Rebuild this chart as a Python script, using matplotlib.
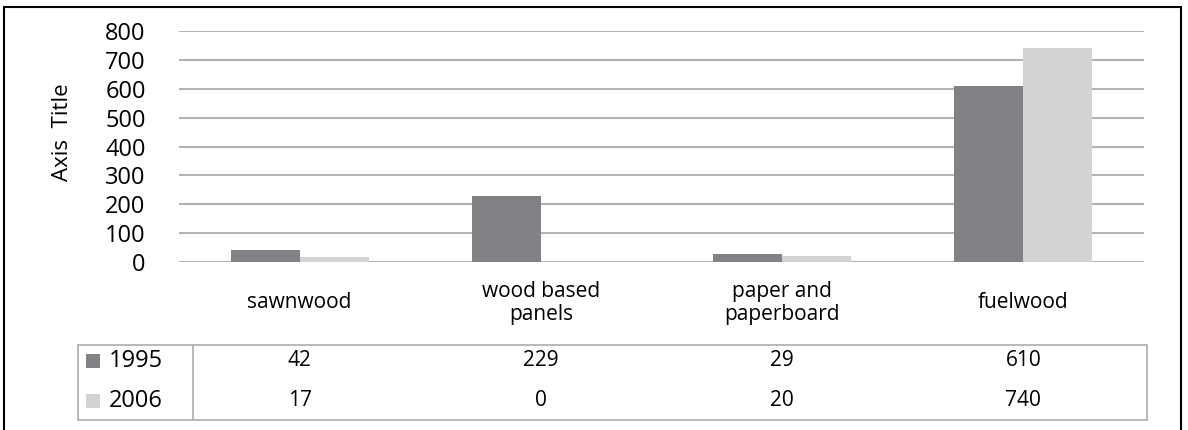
import matplotlib.pyplot as plt
from matplotlib.patches import Rectangle
from matplotlib.lines import Line2D
from matplotlib.transforms import blended_transform_factory

plt.rcParams['font.family'] = ['Open Sans', 'DejaVu Sans']

categories = ["sawnwood", "wood based\npanels", "paper and\npaperboard", "fuelwood"]
years = ["1995", "2006"]
values_1995 = [42, 229, 29, 610]
values_2006 = [17, 0, 20, 740]
yticks = [0, 100, 200, 300, 400, 500, 600, 700, 800]

colors = ["#808285", "#d1d3d4"]
grid_color = "#b3b3b3"

W, H = 1188, 430
fig = plt.figure(figsize=(W / 100, H / 100), dpi=100)

def fx(px):
    return px / W

def fy(py):
    return 1 - py / H

ax = fig.add_axes([fx(179), fy(262), fx(1144) - fx(179), fy(31) - fy(262)])

x = list(range(len(categories)))
bw = 0.286
ax.bar([i - bw / 2 for i in x], values_1995, width=bw, color=colors[0], zorder=3)
ax.bar([i + bw / 2 for i in x], values_2006, width=bw, color=colors[1], zorder=3)

ax.set_xlim(-0.5, len(categories) - 0.5)
ax.set_ylim(0, 800)
ax.set_yticks(yticks)
ax.set_yticklabels([str(t) for t in yticks], fontsize=17)
ax.tick_params(axis="y", length=0, pad=24)
ax.set_xticks([])
for s in ax.spines.values():
    s.set_visible(False)
ax.yaxis.grid(True, color=grid_color, linewidth=1.5, zorder=0)
ax.set_axisbelow(True)

fig.text(fx(62), fy(132), "Axis  Title", rotation=90, fontsize=16,
         ha="center", va="center")

# category labels under the axis
tr = blended_transform_factory(ax.transData, fig.transFigure)
for i, c in enumerate(categories):
    fig.text(i, fy(303), c, transform=tr, ha="center", va="center",
             fontsize=15, linespacing=1.15)

# data table
tbl_l, tbl_div, tbl_r, tbl_t, tbl_b = 78, 193, 1147, 345, 420
fig.add_artist(Rectangle((fx(tbl_l), fy(tbl_b)), fx(tbl_r) - fx(tbl_l),
                         fy(tbl_t) - fy(tbl_b), transform=fig.transFigure,
                         fill=False, edgecolor=grid_color, linewidth=1.3))
fig.add_artist(Line2D([fx(tbl_div), fx(tbl_div)], [fy(tbl_t), fy(tbl_b)],
                      transform=fig.transFigure, color=grid_color, linewidth=1.3))

row_y = [361, 401]
for r, (yr, vals) in enumerate(zip(years, [values_1995, values_2006])):
    fig.add_artist(Rectangle((fx(86), fy(row_y[r] + 7)), fx(14), 14 / H,
                             transform=fig.transFigure, color=colors[r], lw=0))
    fig.text(fx(109), fy(row_y[r]), yr, fontsize=17, ha="left", va="center")
    for i, v in enumerate(vals):
        fig.text(i, fy(row_y[r]), str(v), transform=tr, ha="center",
                 va="center", fontsize=15)

# outer frame
fig.add_artist(Rectangle((fx(4), fy(440)), fx(1181) - fx(4), fy(7) - fy(440),
                         transform=fig.transFigure, fill=False,
                         edgecolor="black", linewidth=1.5))

fig.savefig("out.png", dpi=100)
